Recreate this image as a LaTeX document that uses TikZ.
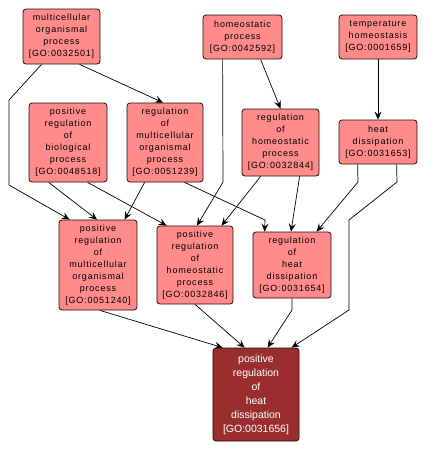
\documentclass[tikz,border=0pt]{standalone}
\usepackage{fontspec}
\setmainfont{Liberation Sans}
\newfontfamily\pinkfont[LetterSpace=9]{Liberation Sans}
\usetikzlibrary{arrows.meta}
\definecolor{pinkfill}{HTML}{FF8A8A}
\definecolor{darkfill}{HTML}{9A2E2E}
\definecolor{boxline}{HTML}{2A0A0A}
\begin{document}
\begin{tikzpicture}[x=1pt,y=-1pt,
  term/.style={draw=boxline,line width=0.8pt,fill=pinkfill,rounded corners=3pt,
    inner sep=0pt,align=center,font=\pinkfont\fontsize{9}{12}\selectfont},
  target/.style={draw=boxline,line width=0.8pt,fill=darkfill,rounded corners=3pt,
    inner sep=0pt,align=center,text=white,font=\fontsize{10.5}{14}\selectfont},
  edge/.style={draw=black,line width=0.7pt,-{Stealth[length=8pt,width=7pt,inset=3pt]}}]
\useasboundingbox (0,0) rectangle (426,453);
\fill[white] (0,0) rectangle (426,453);

\node[term,minimum width=77pt,minimum height=55pt] (n1) at (61.5,36.5) {multicellular\\organismal\\process\\{[}GO:0032501{]}};
\node[term,minimum width=79pt,minimum height=44pt] (n2) at (242.5,37) {homeostatic\\process\\{[}GO:0042592{]}};
\node[term,minimum width=78pt,minimum height=44pt] (n3) at (378,37) {temperature\\homeostasis\\{[}GO:0001659{]}};
\node[term,minimum width=78pt,minimum height=79pt] (n4) at (68,142.5) {positive\\regulation\\of\\biological\\process\\{[}GO:0048518{]}};
\node[term,minimum width=76pt,minimum height=79pt] (n5) at (165,142.5) {regulation\\of\\multicellular\\organismal\\process\\{[}GO:0051239{]}};
\node[term,minimum width=77pt,minimum height=67pt] (n6) at (280.5,142.5) {regulation\\of\\homeostatic\\process\\{[}GO:0032844{]}};
\node[term,minimum width=78pt,minimum height=44pt] (n7) at (378,142) {heat\\dissipation\\{[}GO:0031653{]}};
\node[term,minimum width=78pt,minimum height=90pt] (n8) at (98,265) {positive\\regulation\\of\\multicellular\\organismal\\process\\{[}GO:0051240{]}};
\node[term,minimum width=76pt,minimum height=78pt] (n9) at (195,265) {positive\\regulation\\of\\homeostatic\\process\\{[}GO:0032846{]}};
\node[term,minimum width=78pt,minimum height=66pt] (n10) at (292,265) {regulation\\of\\heat\\dissipation\\{[}GO:0031654{]}};
\node[target,minimum width=86pt,minimum height=93pt] (n11) at (256,394.5) {positive\\regulation\\of\\heat\\dissipation\\{[}GO:0031656{]}};

\draw[edge] ([xshift=19pt]n1.south west) -- (9,100) -- (9,185) -- ([xshift=11pt]n8.north west);
\draw[edge] ([xshift=57pt]n1.south west) -- ([xshift=-2pt]n5.north);
\draw[edge] ([xshift=20pt]n4.south west) -- ([xshift=-1pt]n8.north);
\draw[edge] ([xshift=59pt]n4.south west) -- ([xshift=10pt]n9.north west);
\draw[edge] ([xshift=18pt]n5.south west) -- ([xshift=66pt]n8.north west);
\draw[edge] ([xshift=58pt]n5.south west) -- (265,220) -- ([xshift=12pt]n10.north west);
\draw[edge] ([xshift=20pt]n2.south west) -- (223,182) -- ([xshift=2pt]n9.north);
\draw[edge] ([xshift=58pt]n2.south west) -- (n6.north);
\draw[edge] ([xshift=19pt]n6.south west) -- ([xshift=65pt]n9.north west);
\draw[edge] ([xshift=58pt]n6.south west) -- ([xshift=-1pt]n10.north);
\draw[edge] (n3.south) -- (n7.north);
\draw[edge] ([xshift=19pt]n7.south west) -- (358,182) -- ([xshift=64pt]n10.north west);
\draw[edge] ([xshift=58pt]n7.south west) -- (397,182) -- (349,220) -- (349,310) -- ([xshift=79pt]n11.north west);
\draw[edge] ([xshift=2pt]n8.south) -- ([xshift=10pt]n11.north west);
\draw[edge] (n9.south) -- ([xshift=32pt]n11.north west);
\draw[edge] (n10.south) -- (292,310) -- ([xshift=55pt]n11.north west);
\end{tikzpicture}
\end{document}
